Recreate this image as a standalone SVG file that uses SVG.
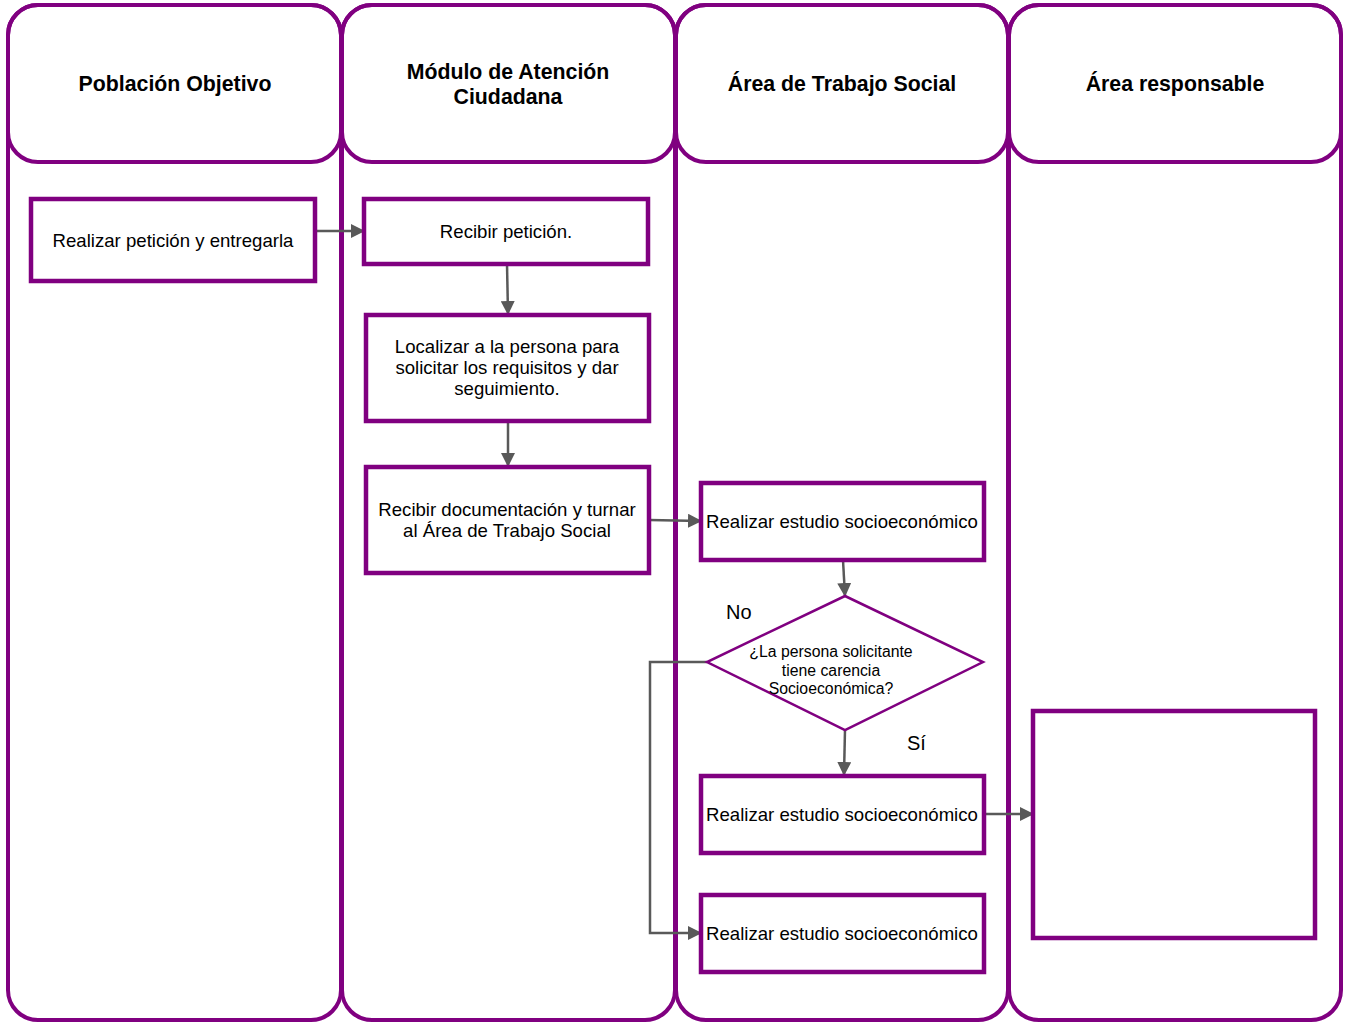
<svg xmlns="http://www.w3.org/2000/svg" width="1345" height="1022" viewBox="0 0 1345 1022">
<style>
.lane{fill:none;stroke:#800080;stroke-width:4}
.box{fill:#fff;stroke:#800080;stroke-width:4.5}
.hd{font-family:"Liberation Sans",Arial,sans-serif;font-size:21.3px;font-weight:bold;fill:#000;text-anchor:middle}
.t{font-family:"Liberation Sans",Arial,sans-serif;font-size:18.6px;fill:#000;text-anchor:middle}
.s{font-family:"Liberation Sans",Arial,sans-serif;font-size:15.8px;fill:#000;text-anchor:middle}
.lb{font-family:"Liberation Sans",Arial,sans-serif;font-size:20px;fill:#000}
.c{fill:none;stroke:#595959;stroke-width:2.5}
</style>
<defs>
<marker id="ah" markerWidth="14" markerHeight="14" refX="13" refY="7" orient="auto" markerUnits="userSpaceOnUse">
<path d="M0,0 L14,7 L0,14 Z" fill="#595959"/>
</marker>
</defs>
<rect width="1345" height="1022" fill="#fff"/>
<g id="lane1">
<rect class="lane" x="8" y="5" width="333" height="1015" rx="30"/>
<rect class="lane" x="8" y="5" width="333" height="157" rx="30"/>
<text class="hd" x="175" y="91">Población Objetivo</text>
</g>
<g id="lane2">
<rect class="lane" x="342" y="5" width="333" height="1015" rx="30"/>
<rect class="lane" x="342" y="5" width="333" height="157" rx="30"/>
<text class="hd" x="508" y="79">Módulo de Atención</text>
<text class="hd" x="508" y="104">Ciudadana</text>
</g>
<g id="lane3">
<rect class="lane" x="676" y="5" width="332" height="1015" rx="30"/>
<rect class="lane" x="676" y="5" width="332" height="157" rx="30"/>
<text class="hd" x="842" y="91">Área de Trabajo Social</text>
</g>
<g id="lane4">
<rect class="lane" x="1009" y="5" width="332" height="1015" rx="30"/>
<rect class="lane" x="1009" y="5" width="332" height="157" rx="30"/>
<text class="hd" x="1175" y="91">Área responsable</text>
</g>
<g id="connectors">
<path class="c" d="M315,231 L364,231" marker-end="url(#ah)"/>
<path class="c" d="M507,264 L508,314" marker-end="url(#ah)"/>
<path class="c" d="M508,422 L508,466" marker-end="url(#ah)"/>
<path class="c" d="M649,520 L701,521" marker-end="url(#ah)"/>
<path class="c" d="M843,560 L845,596" marker-end="url(#ah)"/>
<path class="c" d="M845,730 L844,775" marker-end="url(#ah)"/>
<path class="c" d="M984,814 L1033,814" marker-end="url(#ah)"/>
<path class="c" d="M707,662 L650,662 L650,933 L701,933" marker-end="url(#ah)"/>
</g>
<g id="n1">
<rect class="box" x="31" y="199" width="284" height="82"/>
<text class="t" x="173" y="247">Realizar petición y entregarla</text>
</g>
<g id="n2">
<rect class="box" x="364" y="199" width="284" height="65"/>
<text class="t" x="506" y="238">Recibir petición.</text>
</g>
<g id="n3">
<rect class="box" x="366" y="315" width="283" height="106"/>
<text class="t" x="507" y="353">Localizar a la persona para</text>
<text class="t" x="507" y="374">solicitar los requisitos y dar</text>
<text class="t" x="507" y="395">seguimiento.</text>
</g>
<g id="n4">
<rect class="box" x="366" y="467" width="283" height="106"/>
<text class="t" x="507" y="516">Recibir documentación y turnar</text>
<text class="t" x="507" y="537">al Área de Trabajo Social</text>
</g>
<g id="n5">
<rect class="box" x="701" y="483" width="283" height="77"/>
<text class="t" x="842" y="528">Realizar estudio socioeconómico</text>
</g>
<g id="n6">
<polygon points="845,596 983,662 845,730 707,662" fill="#fff" stroke="#800080" stroke-width="2.5"/>
<text class="s" x="831" y="657">¿La persona solicitante</text>
<text class="s" x="831" y="676">tiene carencia</text>
<text class="s" x="831" y="694">Socioeconómica?</text>
<text class="lb" x="726" y="619">No</text>
<text class="lb" x="907" y="750">Sí</text>
</g>
<g id="n7">
<rect class="box" x="701" y="776" width="283" height="77"/>
<text class="t" x="842" y="821">Realizar estudio socioeconómico</text>
</g>
<g id="n8">
<rect class="box" x="701" y="895" width="283" height="77"/>
<text class="t" x="842" y="940">Realizar estudio socioeconómico</text>
</g>
<g id="n9">
<rect class="box" x="1033" y="711" width="282" height="227"/>
</g>
</svg>
